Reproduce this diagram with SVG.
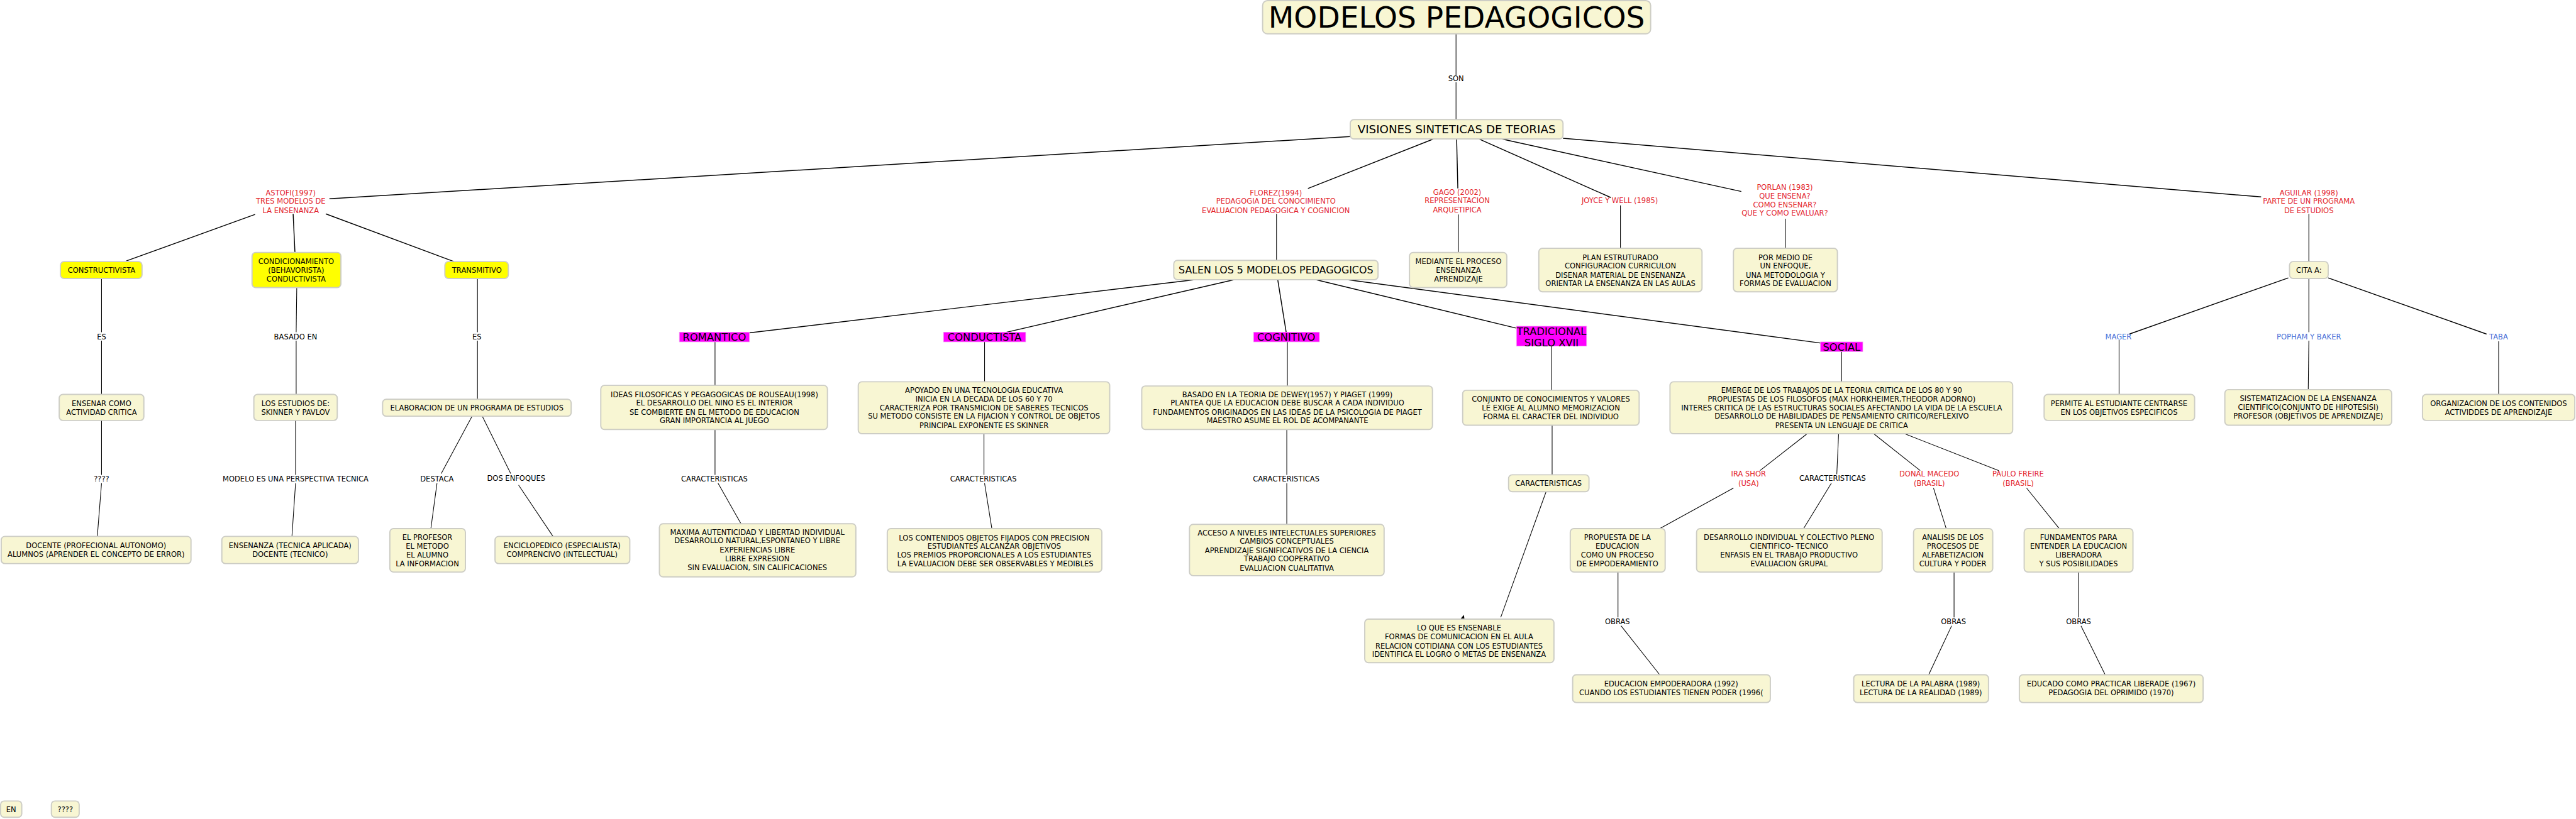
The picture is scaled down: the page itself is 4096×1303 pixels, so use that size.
<svg xmlns="http://www.w3.org/2000/svg" width="4096" height="1303" viewBox="0 0 4096 1303">
<style>
text{font-family:"DejaVu Sans",Verdana,"Liberation Sans",sans-serif;font-size:12px;text-anchor:middle;fill:#000}
.n rect{fill:#f8f6d3;stroke:#cdcdc5;stroke-width:2}
.y rect{fill:#ffff00;stroke:#cdcdc5;stroke-width:2}
.m rect{fill:#ff00ff;stroke:#f0a0f0;stroke-width:0.8}
.m text{font-size:17px}
.r text{fill:#e3262e}
.b text{fill:#4a70d8}
#connectors line{stroke:#000;stroke-width:1.1;fill:none}
#connectors line.t{stroke-width:1.5}
</style>
<rect width="4096" height="1303" fill="#fff"/>
<g transform="scale(0.96105)">
<g id="connectors">
<line x1="2409" y1="56" x2="2409" y2="124"/>
<line x1="2409" y1="136" x2="2409" y2="198"/>
<line class="t" x1="2234" y1="226" x2="545" y2="329"/>
<line class="t" x1="2372" y1="230" x2="2164" y2="312"/>
<line class="t" x1="2410" y1="230" x2="2412" y2="312"/>
<line class="t" x1="2447" y1="230" x2="2665" y2="327"/>
<line class="t" x1="2484" y1="230" x2="2881" y2="317"/>
<line class="t" x1="2586" y1="229" x2="3741" y2="326"/>
<line class="t" x1="422" y1="355" x2="209" y2="432"/>
<line class="t" x1="485" y1="354" x2="488" y2="418"/>
<line class="t" x1="539" y1="354" x2="751" y2="433"/>
<line x1="168" y1="461" x2="168" y2="550"/>
<line x1="168" y1="564" x2="168" y2="653"/>
<line x1="491" y1="476" x2="490" y2="550"/>
<line x1="490" y1="564" x2="490" y2="653"/>
<line x1="790" y1="461" x2="790" y2="550"/>
<line x1="790" y1="564" x2="790" y2="661"/>
<line x1="168" y1="696" x2="168" y2="786"/>
<line x1="168" y1="800" x2="161" y2="888"/>
<line x1="489" y1="696" x2="489" y2="786"/>
<line x1="489" y1="800" x2="483" y2="888"/>
<line x1="781" y1="689" x2="730" y2="784"/>
<line x1="723" y1="800" x2="713" y2="874"/>
<line x1="798" y1="689" x2="845" y2="784"/>
<line x1="858" y1="803" x2="915" y2="888"/>
<line class="t" x1="1977" y1="463" x2="1240" y2="551"/>
<line class="t" x1="2042" y1="463" x2="1665" y2="550"/>
<line class="t" x1="2114" y1="463" x2="2128" y2="550"/>
<line class="t" x1="2177" y1="463" x2="2508" y2="543"/>
<line class="t" x1="2229" y1="463" x2="3013" y2="568"/>
<line x1="2112" y1="354" x2="2112" y2="431"/>
<line x1="2413" y1="355" x2="2413" y2="418"/>
<line x1="2681" y1="340" x2="2681" y2="411"/>
<line x1="2954" y1="362" x2="2954" y2="411"/>
<line x1="3820" y1="354" x2="3820" y2="433"/>
<line class="t" x1="3786" y1="460" x2="3523" y2="553"/>
<line x1="3820" y1="461" x2="3820" y2="550"/>
<line class="t" x1="3852" y1="460" x2="4114" y2="553"/>
<line x1="3506" y1="563" x2="3506" y2="653"/>
<line x1="3820" y1="564" x2="3819" y2="645"/>
<line x1="4134" y1="565" x2="4134" y2="653"/>
<line x1="1183" y1="566" x2="1183" y2="638"/>
<line x1="1183" y1="711" x2="1183" y2="786"/>
<line x1="1188" y1="800" x2="1226" y2="867"/>
<line x1="1629" y1="566" x2="1629" y2="632"/>
<line x1="1628" y1="718" x2="1628" y2="786"/>
<line x1="1629" y1="800" x2="1641" y2="875"/>
<line x1="2130" y1="566" x2="2130" y2="639"/>
<line x1="2129" y1="711" x2="2129" y2="786"/>
<line x1="2129" y1="800" x2="2129" y2="868"/>
<line x1="2567" y1="573" x2="2567" y2="646"/>
<line x1="2568" y1="704" x2="2568" y2="786"/>
<line x1="2558" y1="814" x2="2483" y2="1022"/>
<line x1="3047" y1="582" x2="3047" y2="632"/>
<line x1="2990" y1="718" x2="2912" y2="779"/>
<line x1="2868" y1="808" x2="2746" y2="875"/>
<line x1="3042" y1="718" x2="3039" y2="785"/>
<line x1="3030" y1="800" x2="2984" y2="875"/>
<line x1="3100" y1="718" x2="3177" y2="779"/>
<line x1="3199" y1="808" x2="3220" y2="875"/>
<line x1="3151" y1="718" x2="3307" y2="779"/>
<line x1="3353" y1="808" x2="3407" y2="875"/>
<line x1="2677" y1="947" x2="2677" y2="1022"/>
<line x1="2682" y1="1036" x2="2746" y2="1117"/>
<line x1="3233" y1="947" x2="3233" y2="1022"/>
<line x1="3229" y1="1036" x2="3191" y2="1117"/>
<line x1="3439" y1="947" x2="3439" y2="1022"/>
<line x1="3443" y1="1036" x2="3483" y2="1117"/>
<polygon points="2416,1025 2422,1018 2423,1025" fill="#000"/>
</g>

<g id="n-title" class="n"><rect x="2089" y="1" width="642" height="55" rx="8"/><text x="2410" y="46" style="font-size:49px">MODELOS PEDAGOGICOS</text></g>
<g id="n-visiones" class="n"><rect x="2234" y="198" width="352" height="32" rx="6"/><text x="2410" y="221" style="font-size:19px">VISIONES SINTETICAS DE TEORIAS</text></g>

<g id="l-son"><text x="2409" y="134.4">SON</text></g>

<g id="n-astofi" class="r"><text x="481"><tspan x="481" y="323.4">ASTOFI(1997)</tspan><tspan x="481" y="337.4">TRES MODELOS DE</tspan><tspan x="481" y="352.4">LA ENSENANZA</tspan></text></g>
<g id="n-florez" class="r"><text x="2111"><tspan x="2111" y="323.4">FLOREZ(1994)</tspan><tspan x="2111" y="337.4">PEDAGOGIA DEL CONOCIMIENTO</tspan><tspan x="2111" y="352.4">EVALUACION PEDAGOGICA Y COGNICION</tspan></text></g>
<g id="n-gago" class="r"><text x="2411"><tspan x="2411" y="322.4">GAGO (2002)</tspan><tspan x="2411" y="336.4">REPRESENTACION</tspan><tspan x="2411" y="351.4">ARQUETIPICA</tspan></text></g>
<g id="n-joyce" class="r"><text x="2680" y="336.4">JOYCE Y WELL (1985)</text></g>
<g id="n-porlan" class="r"><text x="2953"><tspan x="2953" y="314.4">PORLAN (1983)</tspan><tspan x="2953" y="328.4">QUE ENSENA?</tspan><tspan x="2953" y="343.4">COMO ENSENAR?</tspan><tspan x="2953" y="357.4">QUE Y COMO EVALUAR?</tspan></text></g>
<g id="n-aguilar" class="r"><text x="3820"><tspan x="3820" y="323.4">AGUILAR (1998)</tspan><tspan x="3820" y="337.4">PARTE DE UN PROGRAMA</tspan><tspan x="3820" y="352.4">DE ESTUDIOS</tspan></text></g>

<g id="n-constructivista" class="y"><rect x="100" y="433" width="135" height="28" rx="6"/><text x="168" y="451.4">CONSTRUCTIVISTA</text></g>
<g id="n-condicionamiento" class="y"><rect x="417" y="418" width="147" height="58" rx="6"/><text><tspan x="490" y="437.4">CONDICIONAMIENTO</tspan><tspan x="490" y="451.4">(BEHAVORISTA)</tspan><tspan x="490" y="466.4">CONDUCTIVISTA</tspan></text></g>
<g id="n-transmitivo" class="y"><rect x="736" y="433" width="105" height="28" rx="6"/><text x="789" y="451.4">TRANSMITIVO</text></g>

<g id="n-salen" class="n"><rect x="1942" y="431" width="338" height="32" rx="6"/><text x="2111" y="452.8" style="font-size:16.5px">SALEN LOS 5 MODELOS PEDAGOGICOS</text></g>
<g id="n-mediante" class="n"><rect x="2332" y="418" width="161" height="58" rx="6"/><text><tspan x="2413" y="437.4">MEDIANTE EL PROCESO</tspan><tspan x="2413" y="451.4">ENSENANZA</tspan><tspan x="2413" y="466.4">APRENDIZAJE</tspan></text></g>
<g id="n-plan" class="n"><rect x="2546" y="411" width="270" height="72" rx="6"/><text><tspan x="2681" y="430.4">PLAN ESTRUTURADO</tspan><tspan x="2681" y="444.4">CONFIGURACION CURRICULON</tspan><tspan x="2681" y="459.4">DISENAR MATERIAL DE ENSENANZA</tspan><tspan x="2681" y="473.4">ORIENTAR LA ENSENANZA EN LAS AULAS</tspan></text></g>
<g id="n-pormedio" class="n"><rect x="2868" y="411" width="172" height="72" rx="6"/><text><tspan x="2954" y="430.4">POR MEDIO DE</tspan><tspan x="2954" y="444.4">UN ENFOQUE,</tspan><tspan x="2954" y="459.4">UNA METODOLOGIA Y</tspan><tspan x="2954" y="473.4">FORMAS DE EVALUACION</tspan></text></g>
<g id="n-cita" class="n"><rect x="3788" y="433" width="64" height="28" rx="6"/><text x="3820" y="451.4">CITA A:</text></g>

<g id="n-mager" class="b"><text x="3505" y="561.4">MAGER</text></g>
<g id="n-popham" class="b"><text x="3820" y="561.4">POPHAM Y BAKER</text></g>
<g id="n-taba" class="b"><text x="4134" y="562.4">TABA</text></g>

<g id="n-romantico" class="m"><rect x="1124" y="550" width="116" height="16"/><text x="1182" y="564.3">ROMANTICO</text></g>
<g id="n-conductista" class="m"><rect x="1561" y="550" width="136" height="16"/><text x="1629" y="564.3">CONDUCTISTA</text></g>
<g id="n-cognitivo" class="m"><rect x="2074" y="550" width="109" height="16"/><text x="2128" y="564.3">COGNITIVO</text></g>
<g id="n-tradicional" class="m"><rect x="2509" y="540" width="116" height="33"/><text><tspan x="2567" y="554.2">TRADICIONAL</tspan><tspan x="2567" y="573.2">SIGLO XVII</tspan></text></g>
<g id="n-social" class="m"><rect x="3012" y="566" width="70" height="16"/><text x="3047" y="580.3">SOCIAL</text></g>

<g id="n-ensenar" class="n"><rect x="98" y="653" width="140" height="43" rx="6"/><text><tspan x="168" y="672.4">ENSENAR COMO</tspan><tspan x="168" y="686.4">ACTIVIDAD CRITICA</tspan></text></g>
<g id="n-estudios" class="n"><rect x="420" y="653" width="138" height="43" rx="6"/><text><tspan x="489" y="672.4">LOS ESTUDIOS DE:</tspan><tspan x="489" y="686.4">SKINNER Y PAVLOV</tspan></text></g>
<g id="n-elaboracion" class="n"><rect x="633" y="661" width="312" height="28" rx="6"/><text x="789" y="679.4">ELABORACION DE UN PROGRAMA DE ESTUDIOS</text></g>
<g id="n-ideas" class="n"><rect x="994" y="638" width="375" height="73" rx="6"/><text><tspan x="1182" y="657.4">IDEAS FILOSOFICAS Y PEGAGOGICAS DE ROUSEAU(1998)</tspan><tspan x="1182" y="671.4">EL DESARROLLO DEL NINO ES EL INTERIOR</tspan><tspan x="1182" y="686.4">SE COMBIERTE EN EL METODO DE EDUCACION</tspan><tspan x="1182" y="700.4">GRAN IMPORTANCIA AL JUEGO</tspan></text></g>
<g id="n-apoyado" class="n"><rect x="1420" y="632" width="416" height="86" rx="6"/><text><tspan x="1628" y="650.4">APOYADO EN UNA TECNOLOGIA EDUCATIVA</tspan><tspan x="1628" y="664.4">INICIA EN LA DECADA DE LOS 60 Y 70</tspan><tspan x="1628" y="679.4">CARACTERIZA POR  TRANSMICION  DE SABERES TECNICOS</tspan><tspan x="1628" y="693.4">SU METODO CONSISTE EN LA FIJACION Y CONTROL DE OBJETOS</tspan><tspan x="1628" y="708.4">PRINCIPAL EXPONENTE ES SKINNER</tspan></text></g>
<g id="n-basado" class="n"><rect x="1889" y="639" width="481" height="72" rx="6"/><text><tspan x="2130" y="657.4">BASADO EN LA TEORIA DE DEWEY(1957) Y PIAGET (1999)</tspan><tspan x="2130" y="671.4">PLANTEA QUE LA EDUCACION DEBE BUSCAR A CADA INDIVIDUO</tspan><tspan x="2130" y="686.4">FUNDAMENTOS ORIGINADOS EN LAS IDEAS DE LA PSICOLOGIA DE PIAGET</tspan><tspan x="2130" y="700.4">MAESTRO ASUME EL ROL DE ACOMPANANTE</tspan></text></g>
<g id="n-conjunto" class="n"><rect x="2420" y="646" width="292" height="58" rx="6"/><text><tspan x="2566" y="665.4">CONJUNTO DE CONOCIMIENTOS Y VALORES</tspan><tspan x="2566" y="679.4">LE EXIGE AL ALUMNO MEMORIZACION</tspan><tspan x="2566" y="694.4">FORMA EL CARACTER DEL INDIVIDUO</tspan></text></g>
<g id="n-emerge" class="n"><rect x="2763" y="632" width="567" height="86" rx="6"/><text><tspan x="3047" y="650.4">EMERGE DE LOS TRABAJOS DE LA TEORIA CRITICA DE LOS 80 Y 90</tspan><tspan x="3047" y="664.4">PROPUESTAS DE LOS FILOSOFOS (MAX HORKHEIMER,THEODOR ADORNO)</tspan><tspan x="3047" y="679.4">INTERES CRITICA DE LAS ESTRUCTURAS SOCIALES AFECTANDO LA VIDA DE LA ESCUELA</tspan><tspan x="3047" y="693.4">DESARROLLO DE HABILIDADES DE PENSAMIENTO CRITICO/REFLEXIVO</tspan><tspan x="3047" y="708.4">PRESENTA UN LENGUAJE DE CRITICA</tspan></text></g>
<g id="n-permite" class="n"><rect x="3382" y="653" width="249" height="43" rx="6"/><text><tspan x="3506" y="672.4">PERMITE AL ESTUDIANTE CENTRARSE</tspan><tspan x="3506" y="686.4">EN LOS OBJETIVOS ESPECIFICOS</tspan></text></g>
<g id="n-sistematizacion" class="n"><rect x="3681" y="645" width="276" height="59" rx="6"/><text><tspan x="3819" y="663.4">SISTEMATIZACION DE LA ENSENANZA</tspan><tspan x="3819" y="678.4">CIENTIFICO(CONJUNTO DE HIPOTESISI)</tspan><tspan x="3819" y="693.4">PROFESOR (OBJETIVOS DE APRENDIZAJE)</tspan></text></g>
<g id="n-organizacion" class="n"><rect x="4008" y="653" width="252" height="43" rx="6"/><text><tspan x="4134" y="672.4">ORGANIZACION DE LOS CONTENIDOS</tspan><tspan x="4134" y="686.4">ACTIVIDDES DE APRENDIZAJE</tspan></text></g>

<g id="n-docente" class="n"><rect x="2" y="888" width="314" height="45" rx="6"/><text><tspan x="159" y="907.4">DOCENTE (PROFECIONAL AUTONOMO)</tspan><tspan x="159" y="922.4">ALUMNOS (APRENDER EL CONCEPTO DE ERROR)</tspan></text></g>
<g id="n-ensenanza" class="n"><rect x="367" y="888" width="226" height="45" rx="6"/><text><tspan x="480" y="907.4">ENSENANZA (TECNICA APLICADA)</tspan><tspan x="480" y="922.4">DOCENTE (TECNICO)</tspan></text></g>
<g id="n-profesor" class="n"><rect x="645" y="875" width="125" height="72" rx="6"/><text><tspan x="707" y="893.4">EL PROFESOR</tspan><tspan x="707" y="908.4">EL METODO</tspan><tspan x="707" y="923.4">EL ALUMNO</tspan><tspan x="707" y="937.4">LA INFORMACION</tspan></text></g>
<g id="n-enciclopedico" class="n"><rect x="819" y="888" width="223" height="45" rx="6"/><text><tspan x="930" y="907.4">ENCICLOPEDICO (ESPECIALISTA)</tspan><tspan x="930" y="922.4">COMPRENCIVO (INTELECTUAL)</tspan></text></g>
<g id="n-maxima" class="n"><rect x="1091" y="867" width="325" height="88" rx="6"/><text><tspan x="1253" y="885.4">MAXIMA AUTENTICIDAD Y LIBERTAD INDIVIDUAL</tspan><tspan x="1253" y="899.4">DESARROLLO NATURAL,ESPONTANEO Y LIBRE</tspan><tspan x="1253" y="914.4">EXPERIENCIAS LIBRE</tspan><tspan x="1253" y="929.4">LIBRE EXPRESION</tspan><tspan x="1253" y="943.4">SIN EVALUACION, SIN CALIFICACIONES</tspan></text></g>
<g id="n-contenidos" class="n"><rect x="1468" y="875" width="355" height="72" rx="6"/><text><tspan x="1645" y="894.4">LOS CONTENIDOS  OBJETOS FIJADOS CON PRECISION</tspan><tspan x="1645" y="908.4">ESTUDIANTES ALCANZAR OBJETIVOS</tspan><tspan x="1645" y="923.4">LOS PREMIOS  PROPORCIONALES A LOS ESTUDIANTES</tspan><tspan x="1645" y="937.4"> LA EVALUACION DEBE SER OBSERVABLES Y MEDIBLES</tspan></text></g>
<g id="n-acceso" class="n"><rect x="1968" y="868" width="322" height="85" rx="6"/><text><tspan x="2129" y="886.4">ACCESO A NIVELES INTELECTUALES SUPERIORES</tspan><tspan x="2129" y="900.4">CAMBIOS CONCEPTUALES</tspan><tspan x="2129" y="915.4">APRENDIZAJE SIGNIFICATIVOS DE LA CIENCIA</tspan><tspan x="2129" y="929.4">TRABAJO COOPERATIVO</tspan><tspan x="2129" y="944.4">EVALUACION CUALITATIVA</tspan></text></g>
<g id="n-caracteristicas" class="n"><rect x="2496" y="786" width="133" height="28" rx="6"/><text x="2562" y="804.4">CARACTERISTICAS</text></g>

<g id="n-irashor" class="r"><text><tspan x="2893" y="788.4">IRA SHOR</tspan><tspan x="2893" y="804.4">(USA)</tspan></text></g>
<g id="n-macedo" class="r"><text><tspan x="3192" y="788.4">DONAL MACEDO</tspan><tspan x="3192" y="804.4">(BRASIL)</tspan></text></g>
<g id="n-freire" class="r"><text><tspan x="3339" y="788.4">PAULO FREIRE</tspan><tspan x="3339" y="804.4">(BRASIL)</tspan></text></g>

<g id="n-propuesta" class="n"><rect x="2598" y="875" width="157" height="72" rx="6"/><text><tspan x="2676" y="893.4">PROPUESTA DE LA</tspan><tspan x="2676" y="908.4">EDUCACION</tspan><tspan x="2676" y="923.4">COMO UN PROCESO</tspan><tspan x="2676" y="937.4">DE EMPODERAMIENTO</tspan></text></g>
<g id="n-desarrollo" class="n"><rect x="2807" y="875" width="307" height="72" rx="6"/><text><tspan x="2960" y="893.4">DESARROLLO INDIVIDUAL Y COLECTIVO PLENO</tspan><tspan x="2960" y="908.4">CIENTIFICO- TECNICO</tspan><tspan x="2960" y="923.4">ENFASIS EN EL TRABAJO PRODUCTIVO</tspan><tspan x="2960" y="937.4">EVALUACION GRUPAL</tspan></text></g>
<g id="n-analisis" class="n"><rect x="3166" y="875" width="131" height="72" rx="6"/><text><tspan x="3231" y="893.4">ANALISIS DE LOS</tspan><tspan x="3231" y="908.4">PROCESOS DE</tspan><tspan x="3231" y="923.4">ALFABETIZACION</tspan><tspan x="3231" y="937.4">CULTURA Y PODER</tspan></text></g>
<g id="n-fundamentos" class="n"><rect x="3349" y="875" width="180" height="72" rx="6"/><text><tspan x="3439" y="893.4">FUNDAMENTOS PARA</tspan><tspan x="3439" y="908.4">ENTENDER LA EDUCACION</tspan><tspan x="3439" y="923.4">LIBERADORA</tspan><tspan x="3439" y="937.4">Y SUS POSIBILIDADES</tspan></text></g>
<g id="n-loque" class="n"><rect x="2258" y="1025" width="313" height="72" rx="6"/><text><tspan x="2414" y="1043.4">LO QUE ES ENSENABLE</tspan><tspan x="2414" y="1058.4">FORMAS DE COMUNICACION EN EL AULA</tspan><tspan x="2414" y="1073.4">RELACION COTIDIANA CON LOS ESTUDIANTES</tspan><tspan x="2414" y="1087.4">IDENTIFICA EL LOGRO O METAS DE ENSENANZA</tspan></text></g>
<g id="n-empoderadora" class="n"><rect x="2602" y="1117" width="327" height="46" rx="6"/><text><tspan x="2765" y="1136.4">EDUCACION EMPODERADORA (1992)</tspan><tspan x="2765" y="1150.4">CUANDO LOS ESTUDIANTES TIENEN PODER (1996(</tspan></text></g>
<g id="n-lectura" class="n"><rect x="3067" y="1117" width="223" height="46" rx="6"/><text><tspan x="3178" y="1136.4">LECTURA DE LA PALABRA (1989)</tspan><tspan x="3178" y="1150.4">LECTURA DE LA REALIDAD (1989)</tspan></text></g>
<g id="n-educado" class="n"><rect x="3341" y="1117" width="304" height="46" rx="6"/><text><tspan x="3493" y="1136.4">EDUCADO COMO PRACTICAR LIBERADE (1967)</tspan><tspan x="3493" y="1150.4">PEDAGOGIA DEL OPRIMIDO (1970)</tspan></text></g>

<g id="n-en" class="n"><rect x="1" y="1326" width="35" height="27" rx="6"/><text x="18.5" y="1344.4">EN</text></g>
<g id="n-q" class="n"><rect x="85" y="1326" width="46" height="27" rx="6"/><text x="108" y="1344.4">????</text></g>

<g id="labels">
<text x="168" y="561.4">ES</text>
<text x="489" y="561.4">BASADO EN</text>
<text x="789" y="561.4">ES</text>
<text x="168" y="797.4">????</text>
<text x="489" y="797.4">MODELO ES UNA PERSPECTIVA TECNICA</text>
<text x="723" y="797.4">DESTACA</text>
<text x="854" y="796.4">DOS ENFOQUES</text>
<text x="1182" y="797.4">CARACTERISTICAS</text>
<text x="1627" y="797.4">CARACTERISTICAS</text>
<text x="2128" y="797.4">CARACTERISTICAS</text>
<text x="3032" y="796.4">CARACTERISTICAS</text>
<text x="2676" y="1033.4">OBRAS</text>
<text x="3232" y="1033.4">OBRAS</text>
<text x="3439" y="1033.4">OBRAS</text>
</g>
</g>
</svg>
